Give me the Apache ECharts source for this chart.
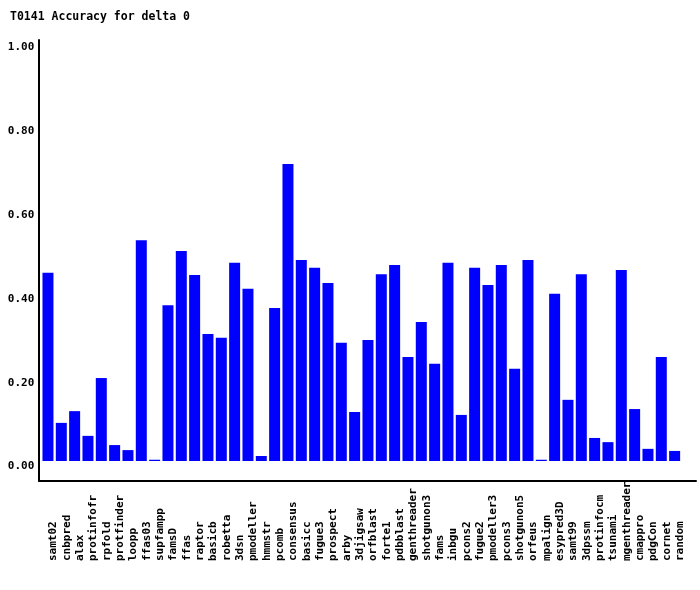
<!DOCTYPE html>
<html>
<head>
<meta charset="utf-8">
<script src="https://cdn.jsdelivr.net/npm/echarts@6/dist/echarts.min.js"></script>
<style>
html,body{margin:0;padding:0;background:#fff;}
#chart{width:700px;height:590px;}
</style>
</head>
<body>
<div id="chart"></div>
<script>
const titleText = "T0141 Accuracy for delta 0";
const categories = ["samt02","cnbpred","alax","protinfofr","rpfold","protfinder","loopp","ffas03","supfampp","famsD","ffas","raptor","basicb","robetta","3dsn","pmodeller","hmmstr","pcomb","consensus","basicc","fugue3","prospect","arby","3djigsaw","orfblast","forte1","pdbblast","genthreader","shotgunon3","fams","inbgu","pcons2","fugue2","pmodeller3","pcons3","shotgunon5","orfeus","mpalign","esypred3D","samt99","3dpssm","protinfocm","tsunami","mgenthreader","cmappro","pdgCon","cornet","random"];
const accuracy = [0.449,0.091,0.119,0.060,0.198,0.038,0.026,0.527,0.003,0.372,0.501,0.444,0.303,0.294,0.473,0.411,0.012,0.365,0.709,0.480,0.461,0.425,0.282,0.117,0.289,0.446,0.468,0.248,0.332,0.232,0.473,0.110,0.461,0.420,0.468,0.220,0.480,0.003,0.399,0.146,0.446,0.055,0.045,0.456,0.124,0.029,0.248,0.024];
const yMin = 0, yMax = 1, yStep = 0.2;

const FONT = "'DejaVu Sans Mono', monospace";
const chart = echarts.init(document.getElementById('chart'), null, {renderer:'canvas'});
chart.setOption({
  backgroundColor: '#ffffff',
  animation: false,
  title: {
    text: titleText, left: 10, top: 11, padding: 0,
    textStyle: {fontFamily: FONT, fontSize: 11.5, fontWeight: 'bold', color: '#000'}
  },
  grid: [
    {left: 39, right: 4, top: 40, bottom: 109},
    {left: 41.3, width: 640, top: 42, height: 419}
  ],
  xAxis: [
    {gridIndex: 0, type: 'value', min: 0, max: 1,
     axisLine: {show: true, lineStyle: {color: '#000', width: 2}},
     axisTick: {show: false}, axisLabel: {show: false}, splitLine: {show: false}},
    {gridIndex: 1, type: 'category', data: categories,
     axisLine: {show: false}, axisTick: {show: false}, splitLine: {show: false},
     axisLabel: {interval: 0, rotate: 90, align: 'left', verticalAlign: 'top', margin: 100,
       fontFamily: FONT, fontSize: 11, fontWeight: 'bold', color: '#000'}}
  ],
  yAxis: [
    {gridIndex: 0, type: 'value', min: 0, max: 1,
     axisLine: {show: true, lineStyle: {color: '#000', width: 2}},
     axisTick: {show: false}, axisLabel: {show: false}, splitLine: {show: false}},
    {gridIndex: 1, type: 'value', min: yMin, max: yMax, interval: yStep,
     axisLine: {show: false}, axisTick: {show: false}, splitLine: {show: false},
     axisLabel: {margin: 7, verticalAlign: 'top', fontFamily: FONT, fontSize: 11, fontWeight: 'bold', color: '#000',
       formatter: v => v.toFixed(2)}}
  ],
  series: [{
    type: 'bar', xAxisIndex: 1, yAxisIndex: 1,
    data: accuracy, barWidth: 11,
    itemStyle: {color: '#0000ff'}
  }]
});
</script>
</body>
</html>
